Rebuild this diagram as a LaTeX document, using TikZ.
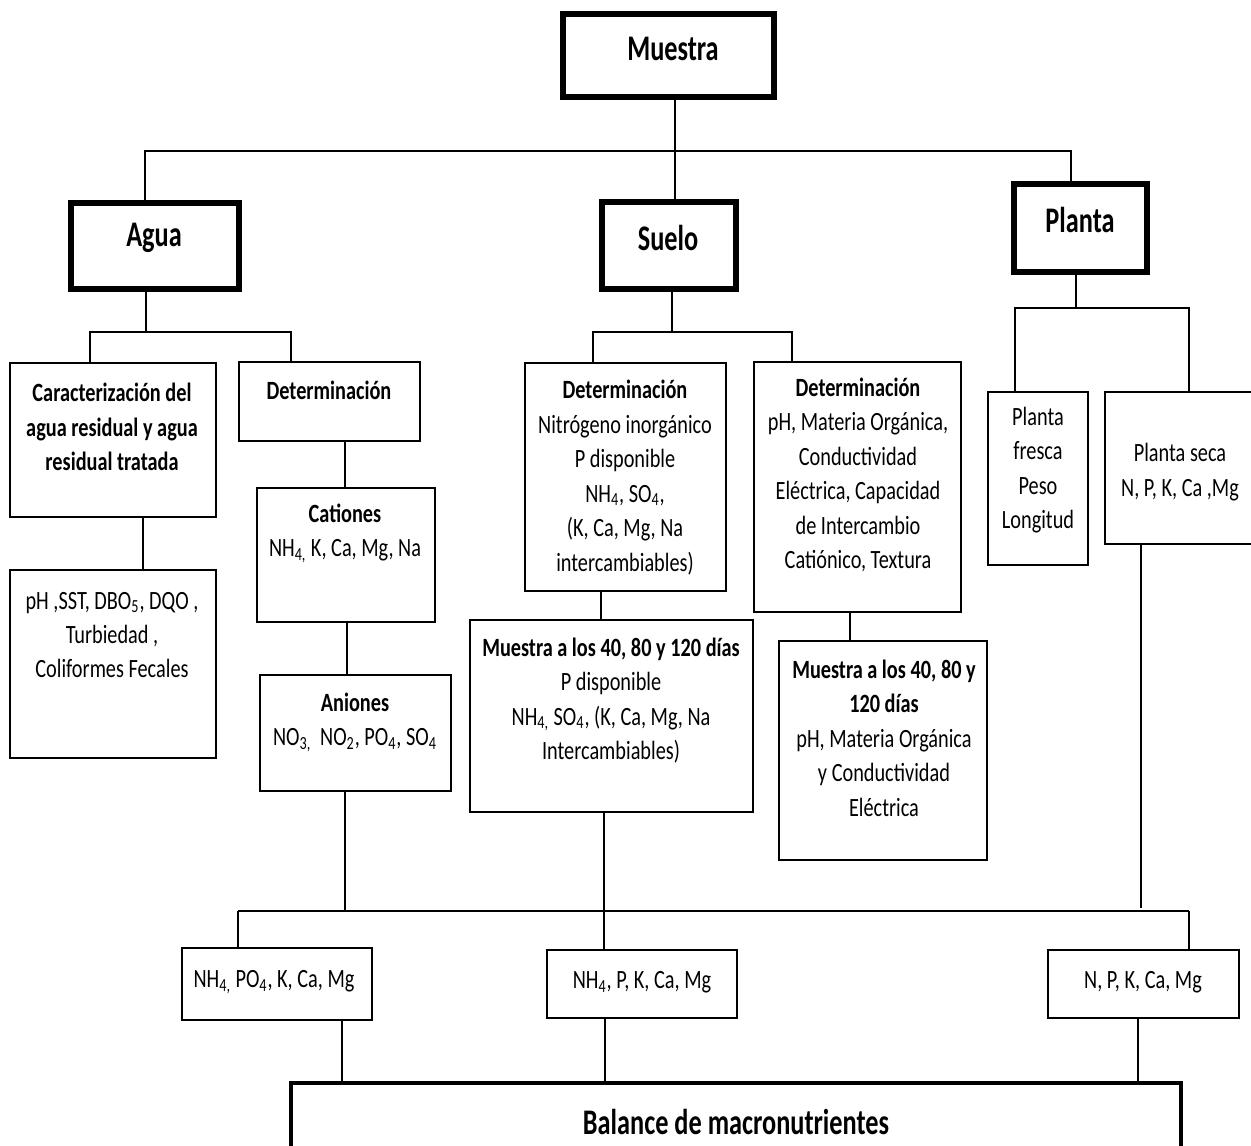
\documentclass[tikz,border=0pt]{standalone}
\usepackage{fontspec}
\setmainfont{Carlito}[FakeStretch=0.77]
\newfontfamily\bigfont{Carlito}[FakeStretch=0.73]
\begin{document}
\begin{tikzpicture}[x=0.02cm,y=-0.02cm,
  wh/.style 2 args={minimum width=#1*0.02cm, minimum height=#2*0.02cm},
  thinbox/.style={draw, line width=1.1pt, inner sep=0pt, outer sep=0pt},
  thickbox/.style={draw, line width=3pt, inner sep=0pt, outer sep=0pt},
  conn/.style={line width=0.8pt},
  bus/.style={line width=1.5pt},
  body/.style={align=center, inner sep=0pt, font=\fontsize{15}{19.6}\selectfont},
  bodyb/.style={align=center, inner sep=0pt, font=\fontsize{15}{19.6}\selectfont\bfseries},
  big/.style={align=center, inner sep=0pt, font=\fontsize{20.5}{24}\selectfont\bigfont\bfseries}
]
\useasboundingbox (0,0) rectangle (1251,1146);
\clip (0,0) rectangle (1251,1146);

% ---- boxes
\node[thickbox, wh={211}{83}] (muestra) at (668.5,55.5) {};
\node[thickbox, wh={168}{86}] (agua) at (155,246) {};
\node[thickbox, wh={134}{87}] (suelo) at (669,245.5) {};
\node[thickbox, wh={133}{88}] (planta) at (1080.5,228) {};

\node[thinbox, wh={206}{154}] (carac) at (113,440) {};
\node[thinbox, wh={181}{79}] (deta) at (329.5,401.5) {};
\node[thinbox, wh={178}{134}] (cat) at (346,555) {};
\node[thinbox, wh={191}{116}] (ani) at (355.5,733) {};
\node[thinbox, wh={206}{188}] (ph) at (113,664) {};

\node[thinbox, wh={201}{228}] (detn) at (625.5,477) {};
\node[thinbox, wh={207}{250}] (detp) at (857.5,487) {};
\node[thinbox, wh={283}{192}] (msl) at (611.5,716) {};
\node[thinbox, wh={208}{219}] (msr) at (883,750.5) {};

\node[thinbox, wh={100}{173}] (fresca) at (1038,478.5) {};
\node[thinbox, wh={160}{152}] (seca) at (1185,468) {};

\node[thinbox, wh={190}{72}] (b1) at (277,984) {};
\node[thinbox, wh={190}{68}] (b2) at (642,984) {};
\node[thinbox, wh={191}{68}] (b3) at (1143.5,984) {};

\node[draw, line width=2.6pt, inner sep=0pt, outer sep=0pt, wh={890}{90}] (bal) at (736,1128) {};

% ---- texts
\node[big] (tmuestra) at (673,49) {Muestra};
\node[big] (tagua) at (154,238) {Agua};
\node[big] (tsuelo) at (668,238) {Suelo};
\node[big] (tplanta) at (1080,220) {Planta};

\node[bodyb] (tcarac) at (112,427) {Caracterización del\\agua residual y agua\\residual tratada};
\node[bodyb] (tdeta) at (329,390) {Determinación};
\node[body] (tcat) at (345,533.5) {\textbf{Cationes}\\NH\textsubscript{4,} K, Ca, Mg, Na};
\node[body] (tani) at (355,722.5) {\textbf{Aniones}\\NO\textsubscript{3,}\, NO\textsubscript{2}, PO\textsubscript{4}, SO\textsubscript{4}};
\node[body] (tph) at (112,635) {pH ,SST, DBO\textsubscript{5}, DQO ,\\Turbiedad ,\\Coliformes Fecales};

\node[body] (tdetn) at (625,477.5) {\textbf{Determinación}\\Nitrógeno inorgánico\\P disponible\\NH\textsubscript{4}, SO\textsubscript{4},\\(K, Ca, Mg, Na\\intercambiables)};
\node[body] (tdetp) at (858,475) {\textbf{Determinación}\\pH, Materia Orgánica,\\Conductividad\\Eléctrica, Capacidad\\de Intercambio\\Catiónico, Textura};
\node[body] (tmsl) at (611,700.5) {\textbf{Muestra a los 40, 80 y 120 días}\\P disponible\\NH\textsubscript{4,} SO\textsubscript{4}, (K, Ca, Mg, Na\\Intercambiables)};
\node[body] (tmsr) at (884,738) {\textbf{Muestra a los 40, 80 y}\\\textbf{120 días}\\pH, Materia Orgánica\\y Conductividad\\Eléctrica};

\node[body] (tfresca) at (1038,470) {Planta\\fresca\\Peso\\Longitud};
\node[body] (tseca) at (1180,472) {Planta seca\\N, P, K, Ca ,Mg};

\node[body] (tb1) at (274,982) {NH\textsubscript{4,} PO\textsubscript{4}, K, Ca, Mg};
\node[body] (tb2) at (642,982) {NH\textsubscript{4}, P, K, Ca, Mg};
\node[body] (tb3) at (1143,982) {N, P, K, Ca, Mg};

\node[big] (tbal) at (736,1122) {Balance de macronutrientes};

% ---- junction coordinates
\coordinate (j0) at (675,151);
\coordinate (ja) at (146,332);
\coordinate (js) at (672,332);
\coordinate (jp) at (1076,308);
\coordinate (jb) at (238,911);

% ---- connectors: level 1
\draw[conn] (muestra.south -| j0) -- (suelo.north -| j0);
\draw[conn] (agua.north -| 145,0) |- (j0) -| (planta.north -| 1071,0);

% agua branch
\draw[conn] (agua.south -| ja) -- (ja);
\draw[conn] (carac.north -| 90,0) |- (ja) -| (deta.north -| 291,0);
\draw[conn] (carac.south -| 143,0) -- (ph.north -| 143,0);
\draw[conn] (deta.south -| 345,0) -- (cat.north -| 345,0);
\draw[conn] (cat.south -| 347,0) -- (ani.north -| 347,0);
\draw[conn] (ani.south -| 345,0) -- (jb -| 345,0);

% suelo branch
\draw[conn] (suelo.south -| js) -- (js);
\draw[conn] (detn.north -| 593,0) |- (js) -| (detp.north -| 792,0);
\draw[conn] (detn.south -| 601,0) -- (msl.north -| 601,0);
\draw[conn] (detp.south -| 850,0) -- (msr.north -| 850,0);
\draw[conn] (msl.south -| 604,0) -- (jb -| 604,0);

% planta branch
\draw[conn] (planta.south -| jp) -- (jp);
\draw[conn] (fresca.north -| 1015,0) |- (jp) -| (seca.north -| 1189,0);
\draw[conn] (seca.south -| 1141,0) -- (1141,908);

% bus
\draw[bus] (jb) -- (1189,911) coordinate (jbr);
\draw[conn] (jb) -- (b1.north -| jb);
\draw[conn] (jb -| 604,0) -- (b2.north -| 604,0);
\draw[conn] (jbr) -- (b3.north -| jbr);

% to balance
\draw[conn] (b1.south -| 342,0) -- (bal.north -| 342,0);
\draw[conn] (b2.south -| 605,0) -- (bal.north -| 605,0);
\draw[conn] (b3.south -| 1138,0) -- (bal.north -| 1138,0);
\end{tikzpicture}
\end{document}
